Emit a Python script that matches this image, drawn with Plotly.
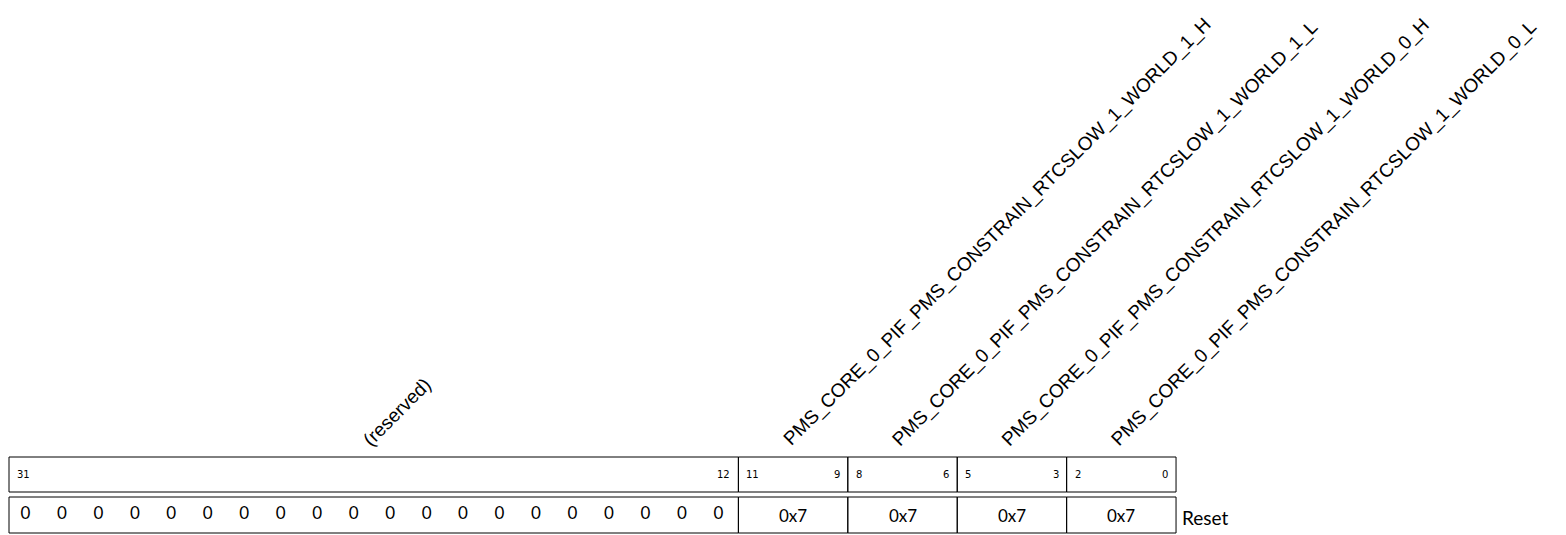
import plotly.graph_objects as go

# register layout: fields from msb to lsb
field_names = [
    "(reserved)",
    "PMS_CORE_0_PIF_PMS_CONSTRAIN_RTCSLOW_1_WORLD_1_H",
    "PMS_CORE_0_PIF_PMS_CONSTRAIN_RTCSLOW_1_WORLD_1_L",
    "PMS_CORE_0_PIF_PMS_CONSTRAIN_RTCSLOW_1_WORLD_0_H",
    "PMS_CORE_0_PIF_PMS_CONSTRAIN_RTCSLOW_1_WORLD_0_L",
]
field_msb = [31, 11, 8, 5, 2]
field_lsb = [12, 9, 6, 3, 0]
field_reset = [None, "0x7", "0x7", "0x7", "0x7"]
reserved_bits = list(range(31, 11, -1))
reserved_reset = [0] * 20

W, H = 1566, 535
PAGE_PAD = 8  # default body margin of the html page
BIT_W = 36.47
LEFT = 9 - PAGE_PAD
TOP_ROW = (457 - PAGE_PAD, 492 - PAGE_PAD)
BOT_ROW = (497 - PAGE_PAD, 533 - PAGE_PAD)

LABEL_FONT = "Liberation Sans, Arial, sans-serif"
NUM_FONT = "DejaVu Sans, sans-serif"
VAL_FONT = "Lato, sans-serif"


def left_edge(msb):
    return 31 - msb


def right_edge(lsb):
    return 32 - lsb


fig = go.Figure()
shapes = []
annotations = []

for name, msb, lsb, reset in zip(field_names, field_msb, field_lsb, field_reset):
    x0, x1 = left_edge(msb), right_edge(lsb)
    for y0, y1 in (TOP_ROW, BOT_ROW):
        shapes.append(dict(type="rect", xref="x", yref="y", x0=x0, x1=x1, y0=y0, y1=y1,
                           line=dict(color="black", width=1), fillcolor="rgba(0,0,0,0)"))
    # bit numbers
    ymid = sum(TOP_ROW) / 2
    annotations.append(dict(x=x0, y=ymid, xref="x", yref="y", text=str(msb), showarrow=False,
                            xanchor="left", yanchor="middle", xshift=6,
                            font=dict(family=NUM_FONT, size=10, color="black")))
    if lsb != msb:
        annotations.append(dict(x=x1, y=ymid, xref="x", yref="y", text=str(lsb), showarrow=False,
                                xanchor="right", yanchor="middle", xshift=-6,
                                font=dict(family=NUM_FONT, size=10, color="black")))
    # rotated field name
    annotations.append(dict(x=(x0 + x1) / 2, y=TOP_ROW[0] - 4, xref="x", yref="y", text=name,
                            showarrow=False, textangle=-45, xanchor="left", yanchor="bottom",
                            xshift=-17, font=dict(family=LABEL_FONT, size=19, color="black")))
    if reset is not None:
        annotations.append(dict(x=(x0 + x1) / 2, y=sum(BOT_ROW) / 2, xref="x", yref="y", text=reset,
                                showarrow=False, xanchor="center", yanchor="middle",
                                font=dict(family=VAL_FONT, size=17, color="black")))

# per-bit reset values of the reserved field
fig.add_trace(go.Scatter(
    x=[left_edge(b) + 0.45 for b in reserved_bits],
    y=[sum(BOT_ROW) / 2] * len(reserved_bits),
    text=[str(v) for v in reserved_reset],
    mode="text",
    textfont=dict(family=VAL_FONT, size=17, color="black"),
    hoverinfo="skip",
    showlegend=False,
))

annotations.append(dict(x=32, y=sum(BOT_ROW) / 2 + 2, xref="x", yref="y", text="Reset", showarrow=False,
                        xanchor="left", yanchor="middle", xshift=4,
                        font=dict(family=VAL_FONT, size=19, color="black")))

fig.update_layout(
    width=W,
    height=H,
    margin=dict(l=0, r=0, t=0, b=0),
    paper_bgcolor="white",
    plot_bgcolor="white",
    shapes=shapes,
    annotations=annotations,
    xaxis=dict(range=[-LEFT / BIT_W, (W - LEFT) / BIT_W], visible=False, fixedrange=True),
    yaxis=dict(range=[H, 0], visible=False, fixedrange=True),
)

fig.write_html("out.html")
